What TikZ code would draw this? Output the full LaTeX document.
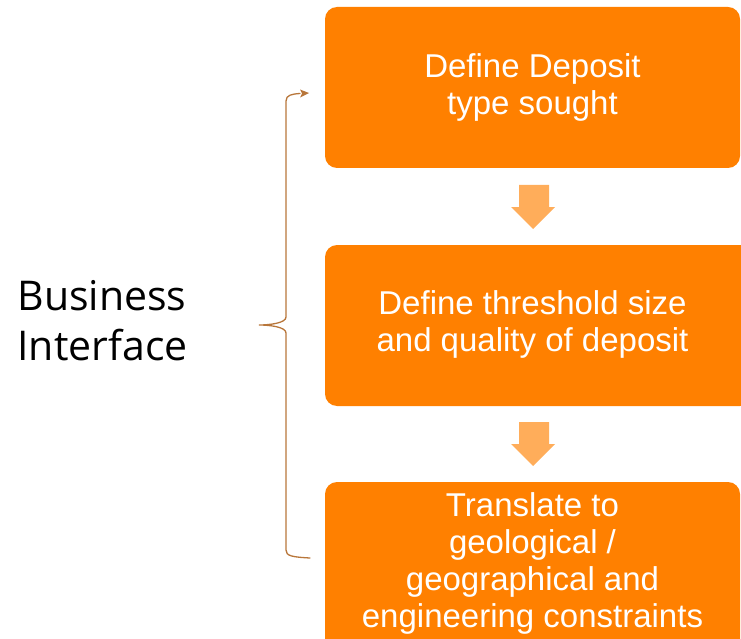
\documentclass[tikz,border=0pt]{standalone}
\usepackage{fontspec}
\setmainfont{Liberation Sans}
\newfontfamily\labelfont{Open Sans}
\begin{document}
\begin{tikzpicture}[x=1pt,y=-1pt,
  stepbox/.style={fill=boxorange, rounded corners=12pt},
  boxtext/.style={text=white, align=center, font=\fontsize{33}{37}\selectfont},
  flowarrow/.style={fill=arroworange},
  bracket/.style={draw=bracebrown, line width=1.3pt, line cap=round}]
\definecolor{boxorange}{RGB}{255,128,0}
\definecolor{arroworange}{RGB}{255,173,90}
\definecolor{bracebrown}{RGB}{184,118,58}
\useasboundingbox (0,0) rectangle (741,639);
\begin{scope}
\clip (0,0) rectangle (741,639);
% process boxes
\path[stepbox] (325,7) rectangle (740,168);
\path[stepbox] (325,245) rectangle (752,406);
\path[stepbox] (325,482) rectangle (740,652);
\node[boxtext] (b1) at (532.5,87.5) {Define Deposit\\type sought};
\node[boxtext] (b2) at (532.5,324) {Define threshold size\\and quality of deposit};
\node[boxtext] (b3) at (532.5,563) {Translate to\\geological /\\geographical and\\engineering constraints};
% down arrows between the boxes
\foreach \y in {185,422}{
  \path[flowarrow] (519,\y) -- (549,\y) -- (549,\y+22) -- (555,\y+22)
     -- (533,\y+44) -- (511,\y+22) -- (519,\y+22) -- cycle;
}
\end{scope}
% side label
\node[anchor=west, align=left, font=\labelfont\fontsize{41}{50}\selectfont] (lab) at (14,321) {Business\\Interface};
% curly bracket spanning the three steps
\coordinate (btop) at (309,93);
\coordinate (bmid) at (259,325);
\coordinate (bbot) at (310,558);
\draw[bracket] (bbot) .. controls (292,557) and (286,556) .. (286,550)
  -- (286,333) .. controls (286,327) and (270,325) .. (bmid)
  .. controls (270,325) and (286,323) .. (286,317)
  -- (286,101) .. controls (286,95) and (292,94) .. (300,93.5);
\fill[bracebrown] (btop) -- (300,89.5) -- (302,93.5) -- (300,97.5) -- cycle;
\end{tikzpicture}
\end{document}
